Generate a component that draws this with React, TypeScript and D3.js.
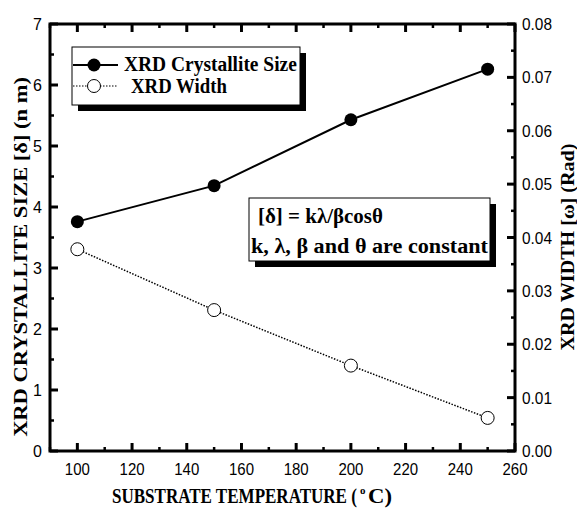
import React, { useRef, useEffect } from 'react';
import * as d3 from 'd3';

// data
const temperatures = [100, 150, 200, 250];
const crystalliteSize = [3.76, 4.35, 5.43, 6.26];
const xrdWidth = [0.0378, 0.0264, 0.016, 0.0062];

const xTicks = [100, 120, 140, 160, 180, 200, 220, 240, 260];
const leftTicks = [0, 1, 2, 3, 4, 5, 6, 7];
const rightTicks = [0, 0.01, 0.02, 0.03, 0.04, 0.05, 0.06, 0.07, 0.08];

const serif = '"Liberation Serif", "Times New Roman", serif';
const sans = '"Liberation Sans", Arial, sans-serif';

const App = () => {
  const svgRef = useRef<SVGSVGElement | null>(null);

  useEffect(() => {
    document.body.style.margin = '0';
    const svg = d3.select(svgRef.current);
    svg.selectAll('*').remove();

    const margin = { top: 24, right: 62, bottom: 63, left: 50 };
    const W = 577, H = 514;
    const x0 = margin.left, x1 = W - margin.right;
    const y0 = H - margin.bottom, y1 = margin.top;

    const x = d3.scaleLinear().domain([90, 260]).range([x0, x1]);
    const yL = d3.scaleLinear().domain([0, 7]).range([y0, y1]);
    const yR = d3.scaleLinear().domain([0, 0.08]).range([y0, y1]);

    const g = svg.append('g');

    // squeezed bold serif text (the original lettering is tall and narrow)
    const label = (sel: any, px: number, py: number, str: string, len: number, size = 20, anchor = 'start') => {
      const holder = sel.append('g').attr('transform', `translate(${px},${py})`);
      const t = holder.append('text')
        .attr('text-anchor', anchor)
        .attr('font-family', serif).attr('font-weight', 'bold').attr('font-size', size)
        .text(str);
      const natural = (t.node() as SVGTextElement).getComputedTextLength() || len;
      t.attr('transform', `scale(${len / natural},1)`);
      return holder;
    };

    // ticks (inward)
    const tickG = g.append('g').attr('stroke', '#000');
    d3.range(90, 261, 10).forEach(v => {
      const major = v % 20 === 0;
      const len = major ? 8 : 4;
      const w = major ? 3 : 2.5;
      tickG.append('line').attr('x1', x(v)).attr('x2', x(v)).attr('y1', y0).attr('y2', y0 - len).attr('stroke-width', w);
      tickG.append('line').attr('x1', x(v)).attr('x2', x(v)).attr('y1', y1).attr('y2', y1 + len).attr('stroke-width', w);
    });
    d3.range(0, 7.01, 0.5).forEach(v => {
      const major = Math.abs(v - Math.round(v)) < 1e-6;
      const len = major ? 8 : 4;
      tickG.append('line').attr('x1', x0).attr('x2', x0 + len).attr('y1', yL(v)).attr('y2', yL(v)).attr('stroke-width', major ? 3 : 2.5);
    });
    d3.range(0, 0.0801, 0.005).forEach((v, i) => {
      const major = i % 2 === 0;
      const len = major ? 8 : 4;
      tickG.append('line').attr('x1', x1).attr('x2', x1 - len).attr('y1', yR(v)).attr('y2', yR(v)).attr('stroke-width', major ? 3 : 2.5);
    });

    // frame
    g.append('rect')
      .attr('x', x0).attr('y', y1)
      .attr('width', x1 - x0).attr('height', y0 - y1)
      .attr('fill', 'none').attr('stroke', '#000').attr('stroke-width', 3);

    // tick labels
    g.append('g').selectAll('text').data(xTicks).enter().append('text')
      .attr('x', d => x(d)).attr('y', y0 + 24)
      .attr('text-anchor', 'middle').attr('font-family', sans).attr('font-size', 16)
      .attr('textLength', 25).attr('lengthAdjust', 'spacingAndGlyphs')
      .text(d => d);
    g.append('g').selectAll('text').data(leftTicks).enter().append('text')
      .attr('x', x0 - 8).attr('y', d => yL(d) + 6)
      .attr('text-anchor', 'end').attr('font-family', sans).attr('font-size', 16)
      .text(d => d);
    g.append('g').selectAll('text').data(rightTicks).enter().append('text')
      .attr('x', x1 + 7).attr('y', d => yR(d) + 6)
      .attr('text-anchor', 'start').attr('font-family', sans).attr('font-size', 16)
      .attr('textLength', 30).attr('lengthAdjust', 'spacingAndGlyphs')
      .text(d => d.toFixed(2));

    // axis titles
    label(g, 112, 503, 'SUBSTRATE TEMPERATURE (', 245);
    g.append('text').attr('x', 360).attr('y', 494)
      .attr('font-family', serif).attr('font-weight', 'bold').attr('font-size', 11).text('o');
    label(g, 368, 503, 'C)', 24);

    label(g.append('g').attr('transform', 'translate(27,257) rotate(-90)'), 0, 0,
      'XRD CRYSTALLITE SIZE [δ] (n m)', 360, 19, 'middle');
    label(g.append('g').attr('transform', 'translate(574,247) rotate(-90)'), 0, 0,
      'XRD WIDTH [ω] (Rad)', 207, 19, 'middle');

    // series
    const pts = temperatures.map((t, i) => ({ t, s: crystalliteSize[i], w: xrdWidth[i] }));
    const lineS = d3.line<any>().x(d => x(d.t)).y(d => yL(d.s));
    const lineW = d3.line<any>().x(d => x(d.t)).y(d => yR(d.w));

    g.append('path').datum(pts).attr('d', lineW).attr('fill', 'none')
      .attr('stroke', '#000').attr('stroke-width', 1.5).attr('stroke-dasharray', '1.5,1.5');
    g.append('g').selectAll('circle').data(pts).enter().append('circle')
      .attr('cx', d => x(d.t)).attr('cy', d => yR(d.w)).attr('r', 6.5)
      .attr('fill', '#fff').attr('stroke', '#000').attr('stroke-width', 1);

    g.append('path').datum(pts).attr('d', lineS).attr('fill', 'none')
      .attr('stroke', '#000').attr('stroke-width', 2);
    g.append('g').selectAll('circle').data(pts).enter().append('circle')
      .attr('cx', d => x(d.t)).attr('cy', d => yL(d.s)).attr('r', 6.5)
      .attr('fill', '#000');

    // legend box with shadow
    const lg = g.append('g');
    lg.append('rect').attr('x', 78).attr('y', 53).attr('width', 228).attr('height', 58).attr('fill', '#000');
    lg.append('rect').attr('x', 72).attr('y', 47).attr('width', 228).attr('height', 58)
      .attr('fill', '#fff').attr('stroke', '#000').attr('stroke-width', 1);
    lg.append('line').attr('x1', 73).attr('x2', 118).attr('y1', 65).attr('y2', 65).attr('stroke', '#000').attr('stroke-width', 2);
    lg.append('circle').attr('cx', 94).attr('cy', 65).attr('r', 6.5).attr('fill', '#000');
    lg.append('line').attr('x1', 73).attr('x2', 118).attr('y1', 86).attr('y2', 86)
      .attr('stroke', '#000').attr('stroke-width', 1.2).attr('stroke-dasharray', '1.5,1.5');
    lg.append('circle').attr('cx', 94).attr('cy', 86).attr('r', 6.5).attr('fill', '#fff').attr('stroke', '#000').attr('stroke-width', 1);
    label(lg, 124, 71, 'XRD Crystallite Size', 173);
    label(lg, 131, 93, 'XRD Width', 96);

    // equation box with shadow
    const eq = g.append('g');
    eq.append('rect').attr('x', 255).attr('y', 204).attr('width', 241).attr('height', 63).attr('fill', '#000');
    eq.append('rect').attr('x', 249).attr('y', 198).attr('width', 241).attr('height', 63)
      .attr('fill', '#fff').attr('stroke', '#000').attr('stroke-width', 1);
    label(eq, 258, 223, '[δ] = kλ/βcosθ', 125);
    label(eq, 251, 253, 'k, λ,  β and θ are  constant', 237);
  }, []);

  return (
    <div style={{ width: 577, height: 514 }}>
      <svg ref={svgRef} width={577} height={514} style={{ display: 'block', background: '#fff' }} />
    </div>
  );
};

export default App;
